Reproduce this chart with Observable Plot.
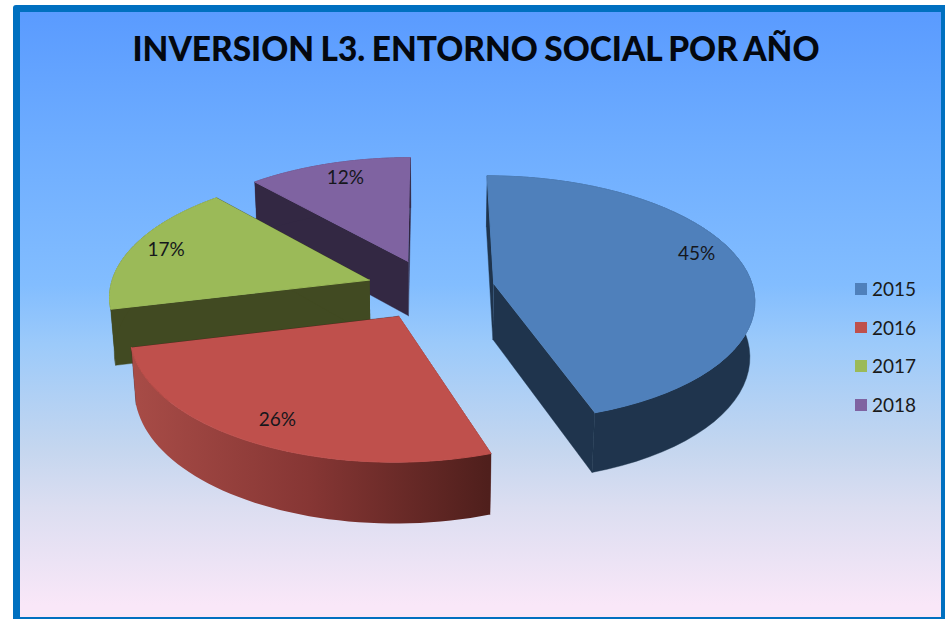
<!DOCTYPE html>
<html>
<head>
<meta charset="utf-8">
<script src="https://cdn.jsdelivr.net/npm/d3@7"></script>
<script src="https://cdn.jsdelivr.net/npm/@observablehq/plot@0.6"></script>
<style>
html,body{margin:0;padding:0;background:#fff;overflow:hidden}
#page{position:relative;width:945px;height:619px;overflow:hidden;font-family:Lato,sans-serif}
#frame{position:absolute;left:13px;top:5px;width:921px;height:605px;border:7px solid #0070c0;border-radius:3px;
background:linear-gradient(180deg,#5a9bff 0%,#6eadff 22%,#82bdff 45%,#9ccafa 55%,#c4d6ef 72%,#dcdef1 82%,#f9e7f8 98%)}
#title{position:absolute;left:0;width:952px;top:25px;text-align:center;font-weight:900;font-size:33.4px;word-spacing:-1.5px;line-height:46px;color:#04080f;white-space:nowrap}
#chart{position:absolute;left:0;top:0}
.lg{position:absolute;left:855px;font-size:19px;line-height:24px;color:#1a1a1a;height:24px}
.lg i{position:absolute;left:0;top:6px;width:11.5px;height:11.5px}
.lg span{position:absolute;left:17px;top:0}
</style>
</head>
<body>
<div id="page"><div id="frame"></div><div id="title"></div><div id="chart"></div></div>
<script>
const chartTitle = "INVERSION L3. ENTORNO SOCIAL POR AÑO";
const years = ["2015","2016","2017","2018"];
const shares = [44.8,26.4,17.2,11.6];
const topColors = ["#4f80bb","#bf504c","#9bba58","#7f63a1"];
const sideColors = ["#1f344d","#4f1f1c","#414a22","#332843"];
const labelReach = [0.855,0.84,0.86,0.84];
const labelTurn = [-8,0,0,1.5];
const drawOrder = [3,2,0,1];

// camera model of the tilted, exploded pie
const cam = {cx:430,cy:288.5,F:1960,D:7.55,sinE:0.47,cosE:0.883,explode:0.248,thick:0.245};
function project(X,Y,Z){
  const d = cam.D + Y*cam.cosE - Z*cam.sinE;
  return {x: cam.cx + cam.F*X/d, y: cam.cy - cam.F*(Y*cam.sinE + Z*cam.cosE)/d};
}
const total = d3.sum(shares);
let run = 0;
const slices = years.map((year,i)=>{
  const a0 = run/total*2*Math.PI; run += shares[i];
  const a1 = run/total*2*Math.PI; const m=(a0+a1)/2;
  return {i,year,share:shares[i],a0,a1,m,ox:cam.explode*Math.sin(m),oy:cam.explode*Math.cos(m)};
});
const pt=(s,a,r,z)=>project(s.ox+r*Math.sin(a),s.oy+r*Math.cos(a),z);
const arc=(s,z,rev)=>{
  const n=48,o=[];
  for(let k=0;k<=n;k++){const t=rev?n-k:k;o.push(pt(s,s.a0+(s.a1-s.a0)*t/n,1,z));}
  return o;
};
const marks=[];
const face=(pts,fill,sw)=>marks.push(Plot.line(pts,{x:"x",y:"y",fill,stroke:fill.startsWith("url")?"none":fill,strokeWidth:sw,curve:"linear"}));
for(const i of drawOrder){
  const s=slices[i],h=-cam.thick;
  for(const a of [s.a0,s.a1]){
    face([pt(s,a,0,0),pt(s,a,1,0),pt(s,a,1,h),pt(s,a,0,h)],sideColors[i],0.4);
  }
  face([...arc(s,0,false),...arc(s,h,true)],i===1?"url(#rim2016)":sideColors[i],0.4);
  face([pt(s,s.a0,0,0),...arc(s,0,false)],topColors[i],1);
}
const labels=slices.map(s=>{const p=pt(s,s.m+labelTurn[s.i]*Math.PI/180,labelReach[s.i],0);return {...p,text:Math.round(s.share)+"%"};});
marks.push(Plot.text(labels,{x:"x",y:"y",text:"text",fontSize:19,fontFamily:"Lato",fill:"#15171c"}));

const plot=Plot.plot({
  width:945,height:619,margin:0,
  style:{background:"transparent",overflow:"visible"},
  x:{domain:[0,945],range:[0,945],axis:null},
  y:{domain:[0,619],range:[0,619],axis:null},
  marks
});
const defs=document.createElementNS("http://www.w3.org/2000/svg","defs");
defs.innerHTML=`<linearGradient id="rim2016" gradientUnits="userSpaceOnUse" x1="130" y1="0" x2="488" y2="0">
<stop offset="0" stop-color="#a84c47"/><stop offset="0.5" stop-color="#863634"/><stop offset="1" stop-color="#4f1f1c"/></linearGradient>`;
plot.insertBefore(defs,plot.firstChild);
document.getElementById("chart").appendChild(plot);
document.getElementById("title").textContent=chartTitle;
const page=document.getElementById("page");
years.forEach((y,i)=>{
  const d=document.createElement("div");d.className="lg";d.style.top=(277+i*38.7)+"px";
  d.innerHTML=`<i style="background:${topColors[i]}"></i><span>${y}</span>`;
  page.appendChild(d);
});
</script>
</body>
</html>
